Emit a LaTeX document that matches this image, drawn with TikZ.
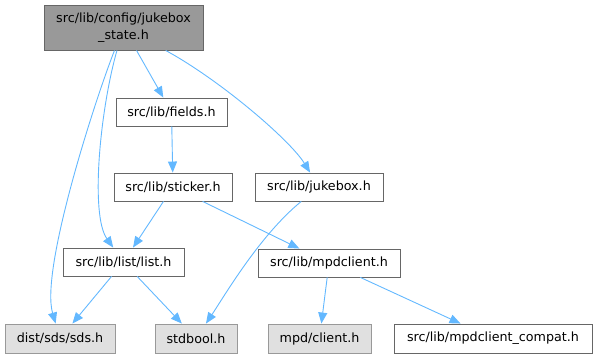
\documentclass[tikz,border=0pt]{standalone}
\usepackage{fontspec}
\setmainfont{DejaVu Sans}
\usetikzlibrary{arrows.meta}

\definecolor{edgeblue}{HTML}{63B8FF}
\definecolor{darkborder}{HTML}{666666}
\definecolor{rootfill}{HTML}{999999}
\definecolor{sysfill}{HTML}{E0E0E0}
\definecolor{sysborder}{HTML}{999999}

\begin{document}
\begin{tikzpicture}[x=1pt, y=-1pt,
  file/.style={draw=darkborder, line width=0.9pt, fill=white, inner sep=0pt,
    minimum height=28pt, font=\fontsize{12.7}{16.5}\selectfont},
  sysfile/.style={file, draw=sysborder, fill=sysfill, minimum height=29pt},
  rootfile/.style={file, fill=rootfill, minimum height=45pt, align=center},
  edge/.style={edgeblue, line width=0.9pt, -{Triangle[length=11pt, width=9pt]}}]

  % Page frame
  \useasboundingbox (0,0) rectangle (597,358);

  % Header being included
  \node[rootfile, minimum width=159pt] (root) at (123.5,27.5) {src/lib/config/jukebox\\\_state.h};

  % First and second level headers
  \node[file, minimum width=111pt] (fields) at (171.5,112) {src/lib/fields.h};
  \node[file, minimum width=118pt] (sticker) at (173,187) {src/lib/sticker.h};
  \node[file, minimum width=128pt] (jukebox) at (319,187) {src/lib/jukebox.h};
  \node[file, minimum width=121pt] (list) at (123.5,262) {src/lib/list/list.h};
  \node[file, minimum width=142pt] (mpdclient) at (329,263) {src/lib/mpdclient.h};

  % Leaves (system headers in gray)
  \node[sysfile, minimum width=110pt] (sds) at (60,338.5) {dist/sds/sds.h};
  \node[sysfile, minimum width=82pt] (stdbool) at (196,338.5) {stdbool.h};
  \node[sysfile, minimum width=103pt] (client) at (319.5,338.5) {mpd/client.h};
  \node[file, minimum width=198pt, minimum height=29pt] (compat) at (493,338.5) {src/lib/mpdclient\_compat.h};

  % Include edges
  \draw[edge] (root) -- (fields);
  \draw[edge] (root) .. controls (220,80) and (290,140) .. (jukebox);
  \draw[edge] (root) .. controls (100,110) and (90,215) .. (list);
  \draw[edge] (root) .. controls (95,100) and (40,270) .. (sds);
  \draw[edge] (fields) -- (sticker);
  \draw[edge] (sticker) -- (list);
  \draw[edge] (sticker) -- (mpdclient);
  \draw[edge] (jukebox) .. controls (260,235) and (225,295) .. (stdbool);
  \draw[edge] (list) -- (sds);
  \draw[edge] (list) -- (stdbool);
  \draw[edge] (mpdclient) -- (client);
  \draw[edge] (mpdclient) -- (compat);

\end{tikzpicture}
\end{document}
